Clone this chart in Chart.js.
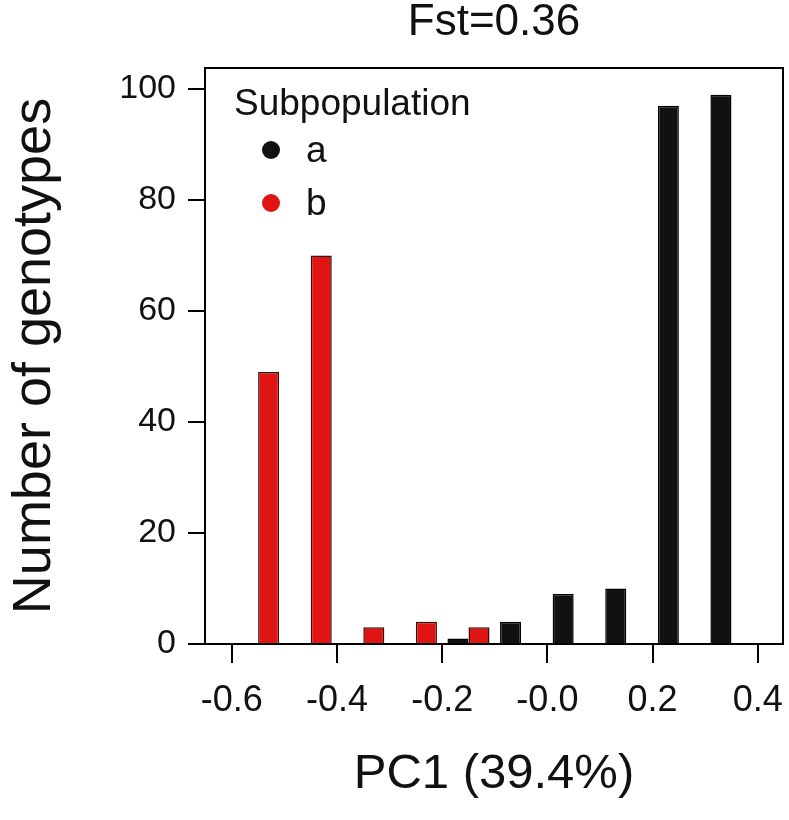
<!DOCTYPE html>
<html>
<head>
<meta charset="utf-8">
<script src="https://cdn.jsdelivr.net/npm/chart.js@4.4.1/dist/chart.umd.min.js"></script>
<style>
  html, body { margin: 0; padding: 0; background: #ffffff; }
  #contenedor { width: 789px; height: 820px; }
</style>
</head>
<body>
<div id="contenedor"><canvas id="grafico-fst"></canvas></div>
<script>
// PC1 bins (centre of each 0.1-wide bin) and counts per subpopulation
const binCenters = [-0.55, -0.45, -0.35, -0.25, -0.15, -0.05, 0.05, 0.15, 0.25, 0.35];
const countsA = [0, 0, 0, 0, 1, 4, 9, 10, 97, 99];
const countsB = [49, 70, 3, 4, 3, 0, 0, 0, 0, 0];
const seriesNames = ["a", "b"];
const xTickValues = [-0.6, -0.4, -0.2, 0, 0.2, 0.4];
const xTickLabels = ["-0.6", "-0.4", "-0.2", "-0.0", "0.2", "0.4"];
const yTickValues = [0, 20, 40, 60, 80, 100];
const plotTitle = "Fst=0.36";
const legendTitle = "Subpopulation";

const fuente = '"Liberation Sans", Arial, sans-serif';
const colores = ["#111111", "#e11414"];
const bordes = ["#000000", "#3a0a0a"];

// frame, title and legend drawn on top of the chart area
const marcoPlugin = {
    id: 'marco',
    afterDraw(chart) {
        const ctx = chart.ctx;
        const a = chart.chartArea;
        ctx.save();
        ctx.strokeStyle = "#000";
        ctx.lineWidth = 2;
        ctx.strokeRect(a.left, a.top, a.right - a.left, a.bottom - a.top);

        ctx.fillStyle = "#111";
        ctx.textBaseline = "alphabetic";
        ctx.textAlign = "center";
        ctx.font = "44px " + fuente;
        ctx.fillText(plotTitle, (a.left + a.right) / 2, 35);

        ctx.textAlign = "left";
        ctx.font = "37px " + fuente;
        ctx.fillText(legendTitle, a.left + 29, a.top + 47);
        chart.data.datasets.forEach(function (ds, i) {
            const y = a.top + 82 + i * 53;
            ctx.beginPath();
            ctx.fillStyle = ds.backgroundColor;
            ctx.arc(a.left + 66, y, 9, 0, Math.PI * 2);
            ctx.fill();
            ctx.fillStyle = "#111";
            ctx.fillText(ds.label, a.left + 101, y + 12);
        });
        ctx.restore();
    }
};

const ctx = document.getElementById("grafico-fst").getContext('2d');

const chart = new Chart(ctx, {
    type: 'bar',
    data: {
        datasets: [countsA, countsB].map(function (counts, i) {
            return {
                label: seriesNames[i],
                data: binCenters.map((x, j) => ({ x: x, y: counts[j] })),
                backgroundColor: colores[i],
                borderColor: bordes[i],
                borderWidth: 1.5,
                borderSkipped: 'bottom',
                categoryPercentage: 0.8,
                barPercentage: 1.0
            };
        })
    },
    options: {
        responsive: true,
        maintainAspectRatio: false,
        animation: false,
        layout: {
            padding: { top: 68, right: 6, left: 0, bottom: 0 }
        },
        plugins: {
            legend: { display: false },
            tooltip: { enabled: false },
            title: { display: false }
        },
        scales: {
            x: {
                type: 'linear',
                min: -0.651,
                max: 0.448,
                offset: false,
                afterFit: function (scale) {
                    scale.height = 176;
                    scale.paddingLeft = 0;
                    scale.paddingRight = 0;
                },
                afterBuildTicks: function (scale) {
                    scale.ticks = xTickValues.map(v => ({ value: v }));
                },
                grid: {
                    offset: false,
                    drawOnChartArea: false,
                    drawTicks: true,
                    tickLength: 19,
                    color: "#000",
                    lineWidth: 2
                },
                border: { display: true, color: "#000", width: 2 },
                ticks: {
                    padding: 16,
                    color: "#111",
                    font: { family: fuente, size: 36 },
                    maxRotation: 0,
                    autoSkip: false,
                    callback: function (value, index) { return xTickLabels[index]; }
                },
                title: {
                    display: true,
                    text: "PC1 (39.4%)",
                    color: "#111",
                    font: { family: fuente, size: 49 },
                    padding: { top: 0, bottom: 16 }
                }
            },
            y: {
                min: 0,
                max: 103.8,
                afterFit: function (scale) {
                    scale.width = 205;
                    scale.paddingTop = 0;
                    scale.paddingBottom = 0;
                },
                afterBuildTicks: function (scale) {
                    scale.ticks = yTickValues.map(v => ({ value: v }));
                },
                grid: {
                    drawOnChartArea: false,
                    drawTicks: true,
                    tickLength: 17,
                    color: "#000",
                    lineWidth: 2
                },
                border: { display: true, color: "#000", width: 2 },
                ticks: {
                    padding: 12,
                    color: "#111",
                    font: { family: fuente, size: 34 },
                    autoSkip: false
                },
                title: {
                    display: true,
                    text: "Number of genotypes",
                    color: "#111",
                    font: { family: fuente, size: 54 },
                    padding: { top: 3, bottom: 0 }
                }
            }
        }
    },
    plugins: [marcoPlugin]
});
</script>
</body>
</html>
